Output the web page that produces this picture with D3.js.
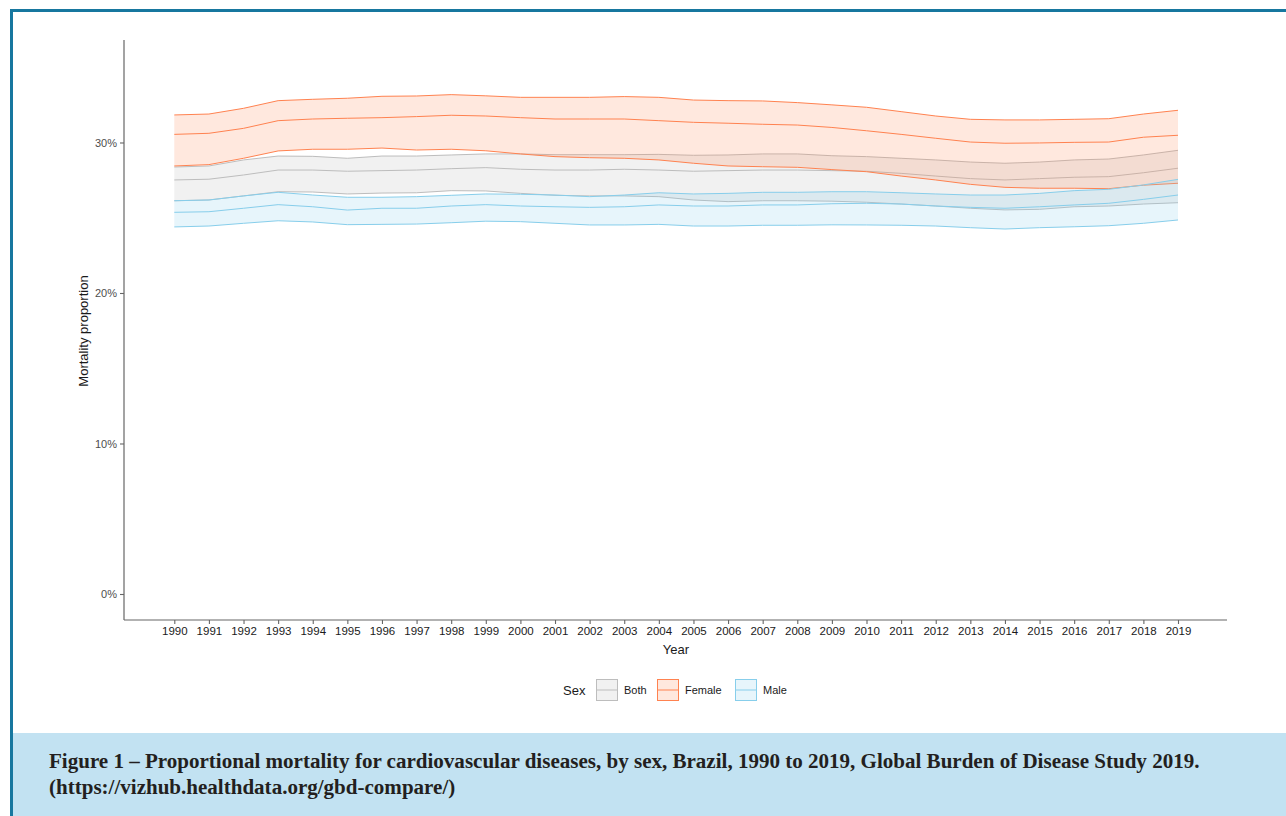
<!DOCTYPE html>
<html>
<head>
<meta charset="utf-8">
<script src="https://cdn.jsdelivr.net/npm/d3@7"></script>
<style>
  body { margin: 0; background: #fff; }
  svg { display: block; }
</style>
</head>
<body>
<svg id="chart" width="1286" height="816" font-family="Liberation Sans, Arial, sans-serif"></svg>
<script>
const years = d3.range(1990, 2020);
const yTicks = [0, 10, 20, 30];
const sexes = ["Both", "Female", "Male"];

const femaleUpper = [31.83,31.89,32.27,32.78,32.87,32.94,33.07,33.09,33.18,33.10,33.00,33.00,33.00,33.05,33.00,32.82,32.78,32.76,32.65,32.50,32.34,32.05,31.76,31.54,31.50,31.50,31.54,31.58,31.89,32.14];
const femaleMid   = [30.54,30.61,30.94,31.45,31.56,31.61,31.65,31.72,31.81,31.76,31.65,31.56,31.56,31.56,31.45,31.34,31.28,31.21,31.16,31.00,30.78,30.54,30.28,30.03,29.95,29.97,30.01,30.03,30.35,30.48];
const femaleLower = [28.44,28.53,28.95,29.44,29.55,29.55,29.63,29.50,29.55,29.45,29.24,29.06,28.99,28.95,28.84,28.62,28.44,28.39,28.35,28.20,28.06,27.77,27.51,27.22,27.02,26.96,26.96,26.93,27.16,27.29];

const bothUpper = [28.37,28.44,28.84,29.10,29.08,28.95,29.10,29.10,29.17,29.24,29.24,29.19,29.19,29.19,29.21,29.15,29.17,29.24,29.24,29.12,29.06,28.95,28.84,28.70,28.62,28.70,28.84,28.90,29.17,29.48];
const bothMid   = [27.51,27.56,27.84,28.17,28.17,28.09,28.13,28.17,28.26,28.33,28.22,28.17,28.17,28.22,28.17,28.09,28.13,28.17,28.17,28.13,28.09,27.95,27.77,27.60,27.51,27.60,27.69,27.73,27.99,28.29];
const bothLower = [26.13,26.18,26.45,26.73,26.71,26.58,26.64,26.66,26.80,26.78,26.62,26.49,26.45,26.45,26.40,26.18,26.07,26.13,26.13,26.10,26.03,25.91,25.78,25.63,25.52,25.56,25.73,25.78,25.91,26.00];

const maleUpper = [26.13,26.18,26.45,26.69,26.51,26.36,26.36,26.40,26.49,26.58,26.56,26.51,26.40,26.51,26.66,26.58,26.62,26.69,26.69,26.73,26.73,26.66,26.58,26.51,26.51,26.62,26.80,26.89,27.18,27.55];
const maleMid   = [25.36,25.40,25.63,25.87,25.73,25.51,25.63,25.63,25.78,25.87,25.78,25.73,25.69,25.73,25.85,25.78,25.78,25.85,25.85,25.93,25.96,25.91,25.78,25.69,25.63,25.73,25.85,25.96,26.22,26.51];
const maleLower = [24.39,24.45,24.63,24.80,24.72,24.54,24.56,24.58,24.67,24.77,24.74,24.63,24.52,24.52,24.56,24.45,24.45,24.50,24.50,24.53,24.52,24.50,24.45,24.34,24.25,24.34,24.40,24.47,24.63,24.85];

const seriesData = [
  {sex: "Both", upper: bothUpper, mid: bothMid, lower: bothLower, color: "#bdbdbd", fill: "#b8b8b8"},
  {sex: "Female", upper: femaleUpper, mid: femaleMid, lower: femaleLower, color: "#ff8250", fill: "#ff8a5c"},
  {sex: "Male", upper: maleUpper, mid: maleMid, lower: maleLower, color: "#87ceeb", fill: "#87ceeb"}
];

const svg = d3.select("#chart");

// frame
svg.append("rect").attr("x", 0).attr("y", 0).attr("width", 1286).attr("height", 816).attr("fill", "#fff");
svg.append("rect").attr("x", 13).attr("y", 733).attr("width", 1273).attr("height", 83).attr("fill", "#c2e2f2");
svg.append("rect").attr("x", 10).attr("y", 9).attr("width", 1276).attr("height", 3).attr("fill", "#17779f");
svg.append("rect").attr("x", 10).attr("y", 9).attr("width", 3).attr("height", 807).attr("fill", "#17779f");

const x = d3.scaleLinear().domain([1990, 2019]).range([174.3, 1178]);
const y = d3.scaleLinear().domain([-1.728, 36.81]).range([620, 40]);

const plot = svg.append("g");

const area = (s) => d3.area()
  .x((d, i) => x(years[i]))
  .y0((d, i) => y(s.lower[i]))
  .y1((d, i) => y(s.upper[i]));
const line = d3.line().x((d, i) => x(years[i])).y(d => y(d));

seriesData.forEach(s => {
  plot.append("path").attr("d", area(s)(years)).attr("fill", s.fill).attr("fill-opacity", 0.2).attr("stroke", "none");
  [s.upper, s.mid, s.lower].forEach(arr => {
    plot.append("path").attr("d", line(arr)).attr("fill", "none").attr("stroke", s.color).attr("stroke-width", 1);
  });
});

// axes
const axisColor = "#666";
svg.append("line").attr("x1", 124).attr("x2", 124).attr("y1", 40).attr("y2", 620).attr("stroke", axisColor).attr("stroke-width", 1.2);
svg.append("line").attr("x1", 124).attr("x2", 1227).attr("y1", 620).attr("y2", 620).attr("stroke", axisColor).attr("stroke-width", 1.2);

const yAxis = svg.append("g").attr("transform", "translate(124,0)")
  .call(d3.axisLeft(y).tickValues(yTicks).tickFormat(d => d + "%").tickSize(4).tickPadding(3));
yAxis.attr("font-family", null).attr("font-size", null);
yAxis.select(".domain").remove();
yAxis.selectAll("line").attr("stroke", axisColor).attr("stroke-width", 1.1);
yAxis.selectAll("text").attr("font-size", 11).attr("fill", "#4d4d4d");

const xAxis = svg.append("g").attr("transform", "translate(0,620)")
  .call(d3.axisBottom(x).tickValues(years).tickFormat(d3.format("d")).tickSize(4).tickPadding(3));
xAxis.attr("font-family", null).attr("font-size", null);
xAxis.select(".domain").remove();
xAxis.selectAll("line").attr("stroke", axisColor).attr("stroke-width", 1.1);
xAxis.selectAll("text").attr("font-size", 11.5).attr("fill", "#1a1a1a");

svg.append("text").attr("x", 676).attr("y", 654).attr("text-anchor", "middle").attr("font-size", 13).attr("fill", "#1a1a1a").text("Year");
svg.append("text").attr("transform", "translate(88,331) rotate(-90)").attr("text-anchor", "middle").attr("font-size", 13).attr("fill", "#1a1a1a").text("Mortality proportion");

// legend
const lg = svg.append("g");
lg.append("text").attr("x", 563).attr("y", 695).attr("font-size", 13).attr("fill", "#1a1a1a").text("Sex");
const keyX = [596, 657, 735];
seriesData.forEach((s, i) => {
  const kx = keyX[i];
  lg.append("rect").attr("x", kx + 0.5).attr("y", 679.5).attr("width", 21).attr("height", 21)
    .attr("fill", s.fill).attr("fill-opacity", 0.2).attr("stroke", s.color).attr("stroke-width", 1);
  lg.append("line").attr("x1", kx + 1).attr("x2", kx + 21).attr("y1", 690).attr("y2", 690).attr("stroke", s.color).attr("stroke-width", 1);
  lg.append("text").attr("x", kx + 28).attr("y", 694).attr("font-size", 11).attr("fill", "#1a1a1a").text(sexes[i]);
});

// caption
const serif = "'Liberation Serif', 'DejaVu Serif', serif";
const cap1 = svg.append("text").attr("x", 49).attr("y", 768)
  .style("font-family", serif).attr("font-weight", "bold").attr("font-size", 17).attr("fill", "#231f20")
  .text("Figure 1 – Proportional mortality for cardiovascular diseases, by sex, Brazil, 1990 to 2019, Global Burden of Disease Study 2019.");
const len = cap1.node().getComputedTextLength();
const fs = 17 * 1151 / len;
cap1.attr("font-size", fs);
svg.append("text").attr("x", 49).attr("y", 794)
  .style("font-family", serif).attr("font-weight", "bold").attr("font-size", fs).attr("fill", "#231f20")
  .text("(https://vizhub.healthdata.org/gbd-compare/)");
</script>
</body>
</html>
